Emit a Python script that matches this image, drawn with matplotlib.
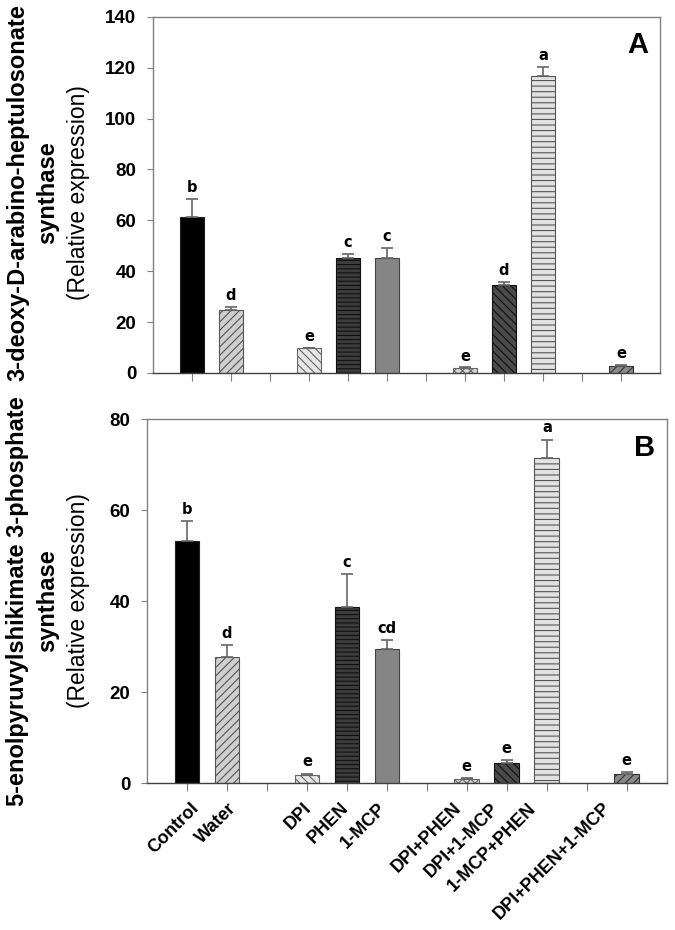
import numpy as np
import matplotlib
matplotlib.use('Agg')
import matplotlib.pyplot as plt
import matplotlib.transforms as mtransforms

#----- data -----#
groups = [['Control', 'Water'],
          ['DPI', 'PHEN', '1-MCP'],
          ['DPI+PHEN', 'DPI+1-MCP', '1-MCP+PHEN'],
          ['DPI+PHEN+1-MCP']]

dahps_mean = [61.2, 24.8, 9.7, 45.1, 45.1, 1.8, 34.5, 116.8, 2.9]
dahps_err = [7.2, 1.3, 0.3, 1.6, 4.0, 0.4, 1.3, 3.4, 0.4]
dahps_letters = ['b', 'd', 'e', 'c', 'c', 'e', 'd', 'a', 'e']

epsps_mean = [53.2, 27.6, 1.8, 38.6, 29.5, 0.8, 4.3, 71.4, 2.1]
epsps_err = [4.4, 2.8, 0.3, 7.4, 2.0, 0.3, 0.7, 4.1, 0.3]
epsps_letters = ['b', 'd', 'e', 'c', 'cd', 'e', 'e', 'a', 'e']

#----- bar styles (fill, hatch, hatch/edge colour) -----#
fills = ['#000000', '#cfcfcf', '#e6e6e6', '#3c3c3c', '#858585',
         '#d4d4d4', '#4a4a4a', '#e2e2e2', '#8a8a8a']
hatches = ['', '////', '\\\\\\\\', '----', '', 'xxxx', '\\\\\\\\', '---', '////']
edges = ['#222222', '#555555', '#666666', '#111111', '#444444',
         '#666666', '#111111', '#555555', '#333333']

# positions with an empty slot between groups
labels = []
pos = []
slot_labels = []
p = 0
for k, g in enumerate(groups):
    for t in g:
        labels.append(t)
        pos.append(p)
        slot_labels.append(t)
        p += 1
    if k < len(groups) - 1:
        slot_labels.append('')
        p += 1
last = pos[-1]

plt.rcParams['font.family'] = ['Liberation Sans', 'DejaVu Sans']
plt.rcParams['hatch.linewidth'] = 0.8

fig = plt.figure(figsize=(6.75, 9.3), dpi=100)
ax1 = fig.add_axes([0.2267, 0.599, 0.751, 0.3828])
ax2 = fig.add_axes([0.2178, 0.158, 0.770, 0.3914])

def draw_panel(ax, mean, err, letters, ymax, ystep, pad, panel):
    for i in range(len(mean)):
        ax.bar(pos[i], mean[i], width=0.62, color=fills[i], hatch=hatches[i],
               edgecolor=edges[i], linewidth=0.8, zorder=2)
    ax.errorbar(pos, mean, yerr=[np.zeros(len(err)), err], fmt='none',
                ecolor='#666666', elinewidth=1.2, capsize=4, capthick=1.2, zorder=3)
    for i in range(len(mean)):
        ax.text(pos[i], mean[i] + err[i] + pad, letters[i], ha='center', va='bottom',
                fontsize=10.5, fontweight='bold', family='DejaVu Sans')
    ax.set_xlim(-1, last + 1)
    ax.set_ylim(0, ymax)
    ax.set_yticks(np.arange(0, ymax + 1, ystep))
    ax.set_xticks(np.arange(last + 1))
    ax.set_xticklabels([])
    for s in ax.spines.values():
        s.set_color('#808080')
        s.set_linewidth(1.0)
    ax.spines['bottom'].set_color('#404040')
    ax.tick_params(axis='y', direction='out', length=4, color='#808080',
                   labelsize=13.5, pad=8)
    ax.tick_params(axis='x', direction='out', length=6, color='#808080')
    for lb in ax.get_yticklabels():
        lb.set_fontweight('bold')
    ax.text(0.977, 0.92, panel, transform=ax.transAxes, ha='right', va='center',
            fontsize=21, fontweight='bold')

draw_panel(ax1, dahps_mean, dahps_err, dahps_letters, 140, 20, 1.5, 'A')
draw_panel(ax2, epsps_mean, epsps_err, epsps_letters, 80, 20, 0.9, 'B')

# x labels only on the lower panel (labels drift a bit left of their ticks)
ax2.set_xticklabels(slot_labels, rotation=45, ha='right', va='top',
                    rotation_mode='anchor', fontsize=13, fontweight='bold')
ax2.tick_params(axis='x', pad=6)
for s, lb in enumerate(ax2.get_xticklabels()):
    dx = (3 - 2.5 * s) / 100.0
    lb.set_transform(lb.get_transform() +
                     mtransforms.ScaledTranslation(dx, 0, fig.dpi_scale_trans))

# y labels (bold gene name + normal "(Relative expression)")
def ylab(ycen, name):
    fig.text(18 / 675, ycen, name[0], rotation=90, ha='center', va='center',
             fontsize=17, fontweight='bold')
    fig.text(48 / 675, ycen, name[1], rotation=90, ha='center', va='center',
             fontsize=17, fontweight='bold')
    fig.text(78 / 675, ycen, '(Relative expression)', rotation=90, ha='center',
             va='center', fontsize=16.5)

ylab(1 - 193 / 930, ['3-deoxy-D-arabino-heptulosonate', 'synthase'])
ylab(1 - 601 / 930, ['5-enolpyruvylshikimate 3-phosphate', 'synthase'])

fig.savefig('out.png', dpi=100)
